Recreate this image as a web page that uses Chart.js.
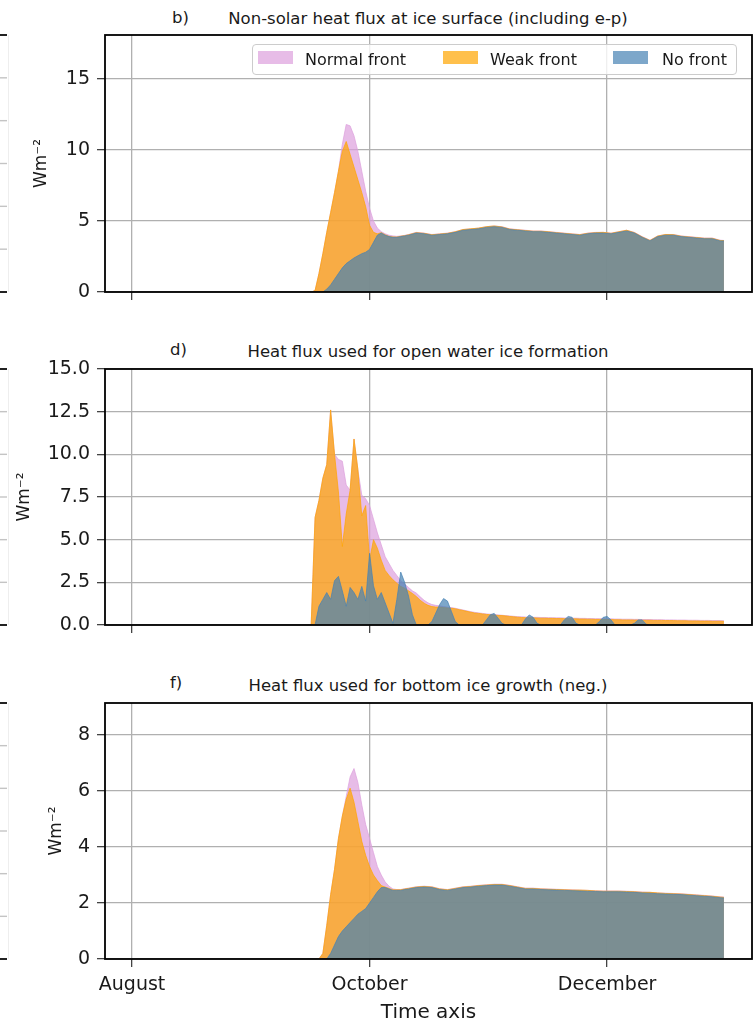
<!DOCTYPE html>
<html lang="en">
<head>
  <meta charset="UTF-8">
  <title>Heat fluxes by front type</title>
  <style>
    body {
      margin: 0;
      background: #ffffff;
      font-family: 'DejaVu Sans', sans-serif;
      color: #1a1a1a;
    }
    .page {
      position: relative;
      width: 753px;
      height: 1023px;
      overflow: hidden;
    }
    canvas {
      position: absolute;
      left: 0;
    }
    .letter, .title {
      position: absolute;
      font-size: 16.5px;
      line-height: 1;
      white-space: nowrap;
      transform: translateY(-50%);
    }
    .title {
      transform: translate(-50%, -50%);
    }
    .legend {
      position: absolute;
      left: 252px;
      top: 44px;
      width: 483px;
      height: 29px;
      border: 1px solid #cccccc;
      border-radius: 4px;
      background: rgba(255, 255, 255, 0.8);
      font-size: 16px;
      z-index: 2;
    }
    .legend .sw {
      position: absolute;
      top: 6px;
      width: 35px;
      height: 13px;
    }
    .legend .lb {
      position: absolute;
      top: 50%;
      transform: translateY(-50%);
      line-height: 1;
      white-space: nowrap;
    }
  </style>
</head>
<body>
<div class="page">
  <div class="letter" style="left:172px; top:18px;">b)</div>
  <div class="title" style="left:428px; top:19px;">Non-solar heat flux at ice surface (including e-p)</div>
  <canvas id="c1" width="753" height="297" style="top:15px; width:753px; height:297px;"></canvas>
  <div class="legend">
    <span class="sw" style="left:5px; background:rgba(221,160,221,0.7);"></span>
    <span class="lb" style="left:52px;">Normal front</span>
    <span class="sw" style="left:190px; background:rgba(255,165,0,0.7);"></span>
    <span class="lb" style="left:237px;">Weak front</span>
    <span class="sw" style="left:360px; background:rgba(70,130,180,0.7);"></span>
    <span class="lb" style="left:409px;">No front</span>
  </div>

  <div class="letter" style="left:170px; top:350px;">d)</div>
  <div class="title" style="left:428px; top:352px;">Heat flux used for open water ice formation</div>
  <canvas id="c2" width="753" height="296" style="top:349px; width:753px; height:296px;"></canvas>

  <div class="letter" style="left:170px; top:683px;">f)</div>
  <div class="title" style="left:428px; top:686px;">Heat flux used for bottom ice growth (neg.)</div>
  <canvas id="c3" width="753" height="340" style="top:683px; width:753px; height:340px;"></canvas>
</div>

<script src="https://cdn.jsdelivr.net/npm/chart.js"></script>
<script>
  // time axis in day of year
  const monthTicks = [213, 274, 335];
  const monthNames = ['August', 'October', 'December'];
  const dayMin = 206.06;
  const dayMax = 372.2;

  const seriesNames = ['Normal front', 'Weak front', 'No front'];
  const fills = ['rgba(221,160,221,0.7)', 'rgba(255,165,0,0.7)', 'rgba(70,130,180,0.7)'];

  // days used by panels b) and f)
  const daysA = [
    258, 259, 260, 261, 262, 263, 264, 265, 266, 267,
    268, 269, 270, 271, 272, 273, 274, 275, 276, 277,
    278, 279, 280, 281, 282, 283, 284, 286, 288, 290,
    292, 294, 296, 298, 300, 302, 304, 306, 308, 310,
    312, 314, 316, 318, 320, 322, 324, 326, 328, 330,
    332, 334, 336, 338, 340, 342, 344, 346, 348, 350,
    352, 354, 356, 358, 360, 362, 364, 365
  ];

  // b) non-solar heat flux at ice surface
  const normal1 = [
    0, 0, 0.1, 1.3, 2.7, 4.2, 5.6, 7.0, 8.5, 10.4,
    11.8, 11.7, 11.0, 9.9, 8.5, 7.1, 5.9, 5.0, 4.5, 4.25,
    4.1, 4.0, 3.95, 3.92, 3.95, 3.99, 4.05, 4.2, 4.15, 4.05,
    4.1, 4.15, 4.25, 4.4, 4.45, 4.5, 4.6, 4.65, 4.6, 4.45,
    4.4, 4.35, 4.3, 4.3, 4.25, 4.2, 4.15, 4.1, 4.05, 4.15,
    4.2, 4.2, 4.15, 4.25, 4.35, 4.2, 3.9, 3.65, 3.95, 4.05,
    4.05, 3.95, 3.9, 3.85, 3.8, 3.8, 3.65, 3.63
  ];
  const weak1 = [
    0, 0, 0.1, 1.3, 2.7, 4.2, 5.6, 7.0, 8.5, 9.9,
    10.6, 9.7, 8.8, 7.9, 7.0, 6.0, 4.7, 4.2, 4.1, 4.18,
    4.03, 3.92, 3.88, 3.87, 3.93, 3.97, 4.03, 4.18, 4.13, 4.03,
    4.08, 4.13, 4.24, 4.4, 4.45, 4.5, 4.6, 4.65, 4.58, 4.43,
    4.38, 4.33, 4.28, 4.28, 4.24, 4.18, 4.13, 4.08, 4.04, 4.13,
    4.18, 4.2, 4.13, 4.24, 4.35, 4.18, 3.88, 3.63, 3.94, 4.05,
    4.04, 3.93, 3.88, 3.83, 3.78, 3.78, 3.63, 3.62
  ];
  const noFront1 = [
    0, 0, 0, 0, 0, 0.2, 0.5, 0.9, 1.3, 1.7,
    2.0, 2.2, 2.4, 2.55, 2.7, 2.8, 3.0, 3.5, 4.0, 4.15,
    4.0, 3.9, 3.85, 3.85, 3.9, 3.95, 4.0, 4.15, 4.1, 4.0,
    4.05, 4.1, 4.2, 4.35, 4.4, 4.45, 4.55, 4.6, 4.55, 4.4,
    4.35, 4.3, 4.25, 4.25, 4.2, 4.15, 4.1, 4.05, 4.0, 4.1,
    4.15, 4.15, 4.1, 4.2, 4.3, 4.15, 3.85, 3.6, 3.9, 4.0,
    4.0, 3.9, 3.85, 3.8, 3.75, 3.75, 3.6, 3.6
  ];

  // d) open water ice formation, daily
  const daysB = [
    258, 259, 260, 261, 262, 263, 264, 265, 266, 267,
    268, 269, 270, 271, 272, 273, 274, 275, 276, 277,
    278, 279, 280, 281, 282, 283, 284, 285, 286, 287,
    288, 289, 290, 291, 292, 293, 294, 295, 296, 297,
    298, 299, 300, 301, 302, 303, 304, 305, 306, 307,
    308, 309, 310, 311, 312, 313, 314, 315, 316, 317,
    318, 319, 320, 321, 322, 323, 324, 325, 326, 327,
    328, 329, 330, 331, 332, 333, 334, 335, 336, 337,
    338, 339, 340, 341, 342, 343, 344, 345, 346, 347,
    348, 349, 350, 351, 352, 353, 354, 355, 356, 357,
    358, 359, 360, 361, 362, 363, 364, 365
  ];
  const normal2 = [
    0, 0, 6.3, 7.3, 8.6, 9.4, 12.6, 10.0, 9.7, 9.6,
    8.2, 7.9, 10.9, 9.1, 7.6, 7.4, 7.0, 6.2, 5.4, 4.7,
    4.0, 3.6, 3.2, 2.9, 2.6, 2.4, 2.2, 2.0, 1.87, 1.65,
    1.45, 1.3, 1.2, 1.15, 1.12, 1.08, 1.05, 1.02, 0.98, 0.93,
    0.88, 0.83, 0.78, 0.74, 0.71, 0.68, 0.65, 0.63, 0.61, 0.59,
    0.57, 0.55, 0.53, 0.51, 0.49, 0.48, 0.47, 0.46, 0.45, 0.45,
    0.44, 0.44, 0.43, 0.43, 0.42, 0.42, 0.41, 0.41, 0.4, 0.4,
    0.39, 0.39, 0.38, 0.38, 0.37, 0.37, 0.37, 0.36, 0.36, 0.35,
    0.35, 0.34, 0.34, 0.34, 0.33, 0.33, 0.32, 0.32, 0.32, 0.31,
    0.31, 0.31, 0.3, 0.3, 0.3, 0.29, 0.29, 0.29, 0.28, 0.28,
    0.28, 0.27, 0.27, 0.27, 0.26, 0.26, 0.26, 0.25
  ];
  const weak2 = [
    0, 0, 6.3, 7.3, 8.6, 9.4, 12.6, 10.0, 7.8, 4.6,
    6.5, 7.9, 10.9, 9.1, 6.4, 7.0, 3.8, 5.0, 4.5, 3.8,
    3.2, 2.9, 2.65, 2.45, 2.26, 2.15, 2.0, 1.85, 1.67, 1.45,
    1.28, 1.15, 1.08, 1.05, 1.05, 1.02, 1.0, 0.98, 0.95, 0.9,
    0.85, 0.8, 0.75, 0.7, 0.68, 0.65, 0.62, 0.6, 0.58, 0.56,
    0.55, 0.53, 0.5, 0.48, 0.46, 0.44, 0.43, 0.42, 0.42, 0.41,
    0.4, 0.4, 0.39, 0.39, 0.38, 0.38, 0.37, 0.37, 0.36, 0.36,
    0.35, 0.35, 0.34, 0.34, 0.33, 0.33, 0.33, 0.32, 0.32, 0.31,
    0.31, 0.3, 0.3, 0.3, 0.29, 0.29, 0.28, 0.28, 0.28, 0.27,
    0.27, 0.27, 0.26, 0.26, 0.26, 0.25, 0.25, 0.25, 0.24, 0.24,
    0.24, 0.23, 0.23, 0.23, 0.22, 0.22, 0.22, 0.21
  ];
  const noFront2 = [
    0, 0, 0, 1.1, 1.5, 1.9, 1.5, 2.6, 2.85, 2.0,
    1.1, 2.2, 1.9, 1.5, 2.26, 1.4, 4.2, 2.3, 1.5, 1.9,
    1.3, 0.7, 0.1, 1.5, 3.1, 2.5, 1.7, 0.6, 0, 0,
    0, 0, 0.2, 0.7, 1.2, 1.55, 1.4, 0.8, 0.2, 0,
    0, 0, 0, 0, 0, 0, 0.3, 0.6, 0.68, 0.4,
    0.1, 0, 0, 0, 0, 0, 0.35, 0.59, 0.45, 0.1,
    0, 0, 0, 0, 0, 0, 0.3, 0.5, 0.45, 0.1,
    0, 0, 0, 0, 0, 0.2, 0.45, 0.5, 0.3, 0,
    0, 0, 0, 0, 0.1, 0.3, 0.3, 0.05, 0, 0,
    0, 0, 0, 0, 0, 0, 0, 0, 0, 0,
    0, 0, 0, 0, 0, 0, 0, 0
  ];

  // f) bottom ice growth (neg.)
  const normal3 = [
    0, 0, 0, 0, 0.2, 1.2, 2.3, 3.2, 4.3, 5.1,
    5.8, 6.5, 6.8, 6.3, 5.5, 4.8, 4.3, 3.8, 3.3, 3.0,
    2.75, 2.6, 2.5, 2.48, 2.48, 2.51, 2.53, 2.58, 2.6, 2.58,
    2.51, 2.48, 2.53, 2.58, 2.6, 2.63, 2.65, 2.67, 2.67, 2.63,
    2.58, 2.53, 2.53, 2.51, 2.5, 2.49, 2.48, 2.47, 2.46, 2.45,
    2.44, 2.43, 2.43, 2.43, 2.42, 2.41, 2.39, 2.38, 2.36, 2.35,
    2.34, 2.33, 2.31, 2.29, 2.27, 2.25, 2.22, 2.21
  ];
  const weak3 = [
    0, 0, 0, 0, 0.2, 1.2, 2.3, 3.2, 4.3, 5.1,
    5.7, 6.1, 5.6, 4.9, 4.2, 3.7, 3.3, 3.0, 2.8, 2.62,
    2.57, 2.52, 2.47, 2.47, 2.47, 2.5, 2.52, 2.57, 2.59, 2.57,
    2.5, 2.47, 2.52, 2.57, 2.59, 2.62, 2.64, 2.66, 2.66, 2.62,
    2.57, 2.52, 2.52, 2.5, 2.49, 2.48, 2.47, 2.46, 2.46, 2.45,
    2.43, 2.42, 2.42, 2.42, 2.41, 2.4, 2.38, 2.38, 2.36, 2.34,
    2.33, 2.32, 2.3, 2.28, 2.26, 2.24, 2.21, 2.2
  ];
  const noFront3 = [
    0, 0, 0, 0, 0, 0, 0.2, 0.5, 0.8, 1.0,
    1.15, 1.3, 1.45, 1.6, 1.7, 1.8, 2.0, 2.2, 2.4, 2.55,
    2.55, 2.5, 2.45, 2.45, 2.45, 2.48, 2.5, 2.55, 2.57, 2.55,
    2.48, 2.45, 2.5, 2.55, 2.57, 2.6, 2.62, 2.64, 2.64, 2.6,
    2.55, 2.5, 2.5, 2.48, 2.47, 2.46, 2.45, 2.44, 2.43, 2.42,
    2.41, 2.4, 2.4, 2.4, 2.39, 2.38, 2.36, 2.35, 2.33, 2.32,
    2.31, 2.3, 2.28, 2.26, 2.24, 2.22, 2.19, 2.18
  ];

  const yTicks1 = [0, 5, 10, 15];
  const yTicks2 = [0, 2.5, 5, 7.5, 10, 12.5, 15];
  const yTicks3 = [0, 2, 4, 6, 8];

  Chart.defaults.font.family = "'DejaVu Sans', sans-serif";
  Chart.defaults.color = '#1a1a1a';

  // black box round the axes, plus the cut-off edge of the neighbouring column
  const frame = {
    id: 'frame',
    afterDraw(chart) {
      const { ctx, chartArea: a } = chart;
      ctx.save();
      ctx.strokeStyle = '#000';
      ctx.lineWidth = 1.8;
      ctx.strokeRect(a.left, a.top, a.right - a.left, a.bottom - a.top);

      ctx.strokeStyle = '#eeeeee';
      ctx.lineWidth = 1;
      ctx.beginPath();
      ctx.moveTo(8.5, a.top);
      ctx.lineTo(8.5, a.bottom);
      ctx.stroke();
      for (let i = 0; i <= 6; i++) {
        const y = a.top + i * (a.bottom - a.top) / 6;
        const edge = i === 0 || i === 6;
        ctx.strokeStyle = edge ? '#222' : '#c4c4c4';
        ctx.lineWidth = edge ? 2 : 1.4;
        ctx.beginPath();
        ctx.moveTo(0, y);
        ctx.lineTo(7, y);
        ctx.stroke();
      }
      ctx.restore();
    }
  };

  function pts(xs, ys) {
    return xs.map((x, i) => ({ x: x, y: ys[i] }));
  }

  // top padding 20 and x-axis at least 20 tall, so the y tick labels never push the plot area
  function panel(id, xs, series, yTicks, yMax, decimals, yTitlePad, showX) {
    const grid = { color: '#b0b0b0', lineWidth: 1.3, tickLength: 8, tickColor: '#444', tickWidth: 1.3 };
    return new Chart(document.getElementById(id), {
      type: 'line',
      data: {
        datasets: series.map((ys, i) => ({
          label: seriesNames[i],
          data: pts(xs, ys),
          fill: 'origin',
          backgroundColor: fills[i],
          borderColor: fills[i],
          borderWidth: 1,
          pointRadius: 0,
          tension: 0,
          order: 3 - i
        }))
      },
      options: {
        responsive: false,
        animation: false,
        events: [],
        layout: { padding: { top: 20, right: 1, left: 0, bottom: 0 } },
        plugins: { legend: { display: false }, tooltip: { enabled: false } },
        scales: {
          x: {
            type: 'linear',
            min: dayMin,
            max: dayMax,
            z: 1,
            afterBuildTicks: s => { s.ticks = monthTicks.map(v => ({ value: v })); },
            afterFit: s => { s.height = showX ? 64 : 20; },
            grid: grid,
            border: { display: false },
            ticks: {
              display: showX,
              autoSkip: false,
              maxRotation: 0,
              padding: 7,
              font: { size: 19 },
              callback: v => monthNames[monthTicks.indexOf(v)]
            },
            title: { display: showX, text: 'Time axis', font: { size: 20 }, padding: { top: 0, bottom: -2 } }
          },
          y: {
            min: 0,
            max: yMax,
            z: 1,
            afterBuildTicks: s => { s.ticks = yTicks.map(v => ({ value: v })); },
            afterFit: s => { s.width = 105; },
            grid: grid,
            border: { display: false },
            ticks: { padding: 7, font: { size: 19 }, callback: v => v.toFixed(decimals) },
            title: { display: true, text: 'Wm⁻²', font: { size: 17 }, padding: { top: yTitlePad, bottom: 0 } }
          }
        }
      },
      plugins: [frame]
    });
  }

  panel('c1', daysA, [normal1, weak1, noFront1], yTicks1, 18.1, 0, 31.8, false);
  panel('c2', daysB, [normal2, weak2, noFront2], yTicks2, 15, 1, 14.8, false);
  panel('c3', daysA, [normal3, weak3, noFront3], yTicks3, 9.14, 0, 46.8, true);
</script>
</body>
</html>
